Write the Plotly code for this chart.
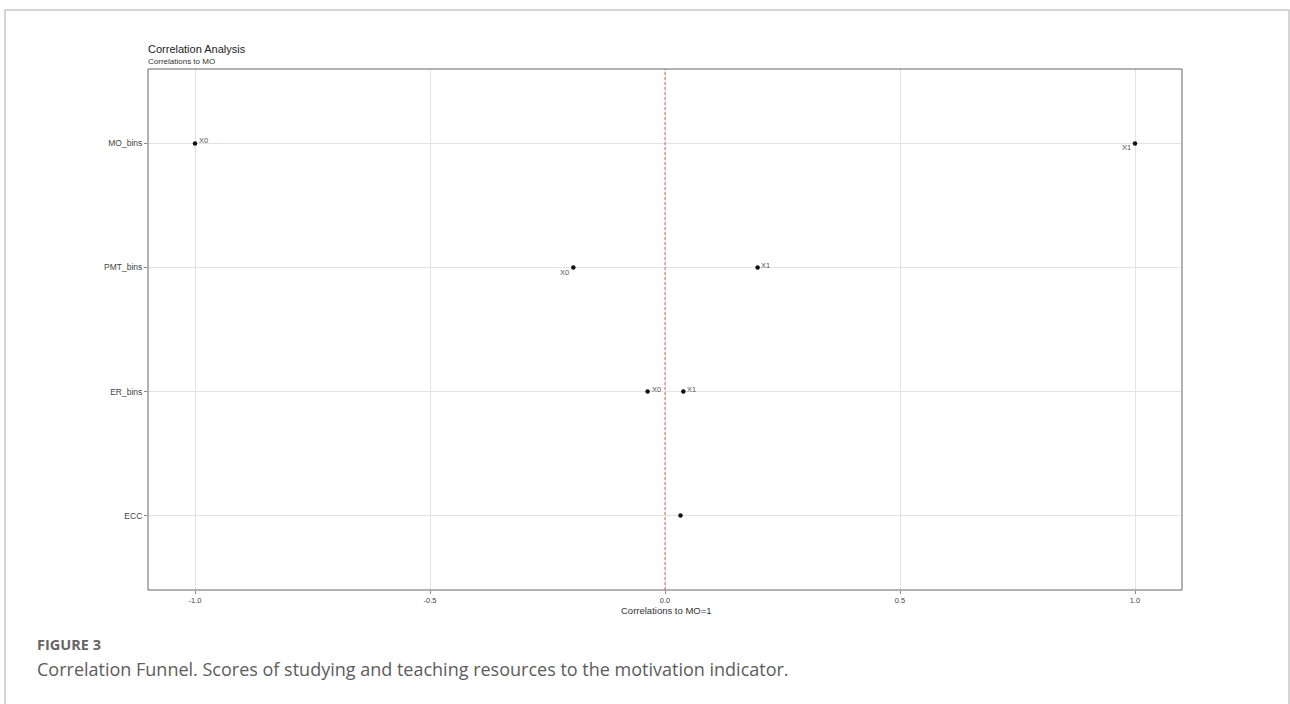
import plotly.graph_objects as go

# Correlation funnel: correlation of each feature level with MO=1
features = ["MO_bins", "MO_bins", "PMT_bins", "PMT_bins", "ER_bins", "ER_bins", "ECC"]
levels = ["X0", "X1", "X0", "X1", "X0", "X1", ""]
correlations = [-1.0, 1.0, -0.195, 0.197, -0.037, 0.039, 0.033]

category_order = ["ECC", "ER_bins", "PMT_bins", "MO_bins"]
x_ticks = [-1.0, -0.5, 0.0, 0.5, 1.0]
x_tick_labels = ["-1.0", "-0.5", "0.0", "0.5", "1.0"]

# Label placement (repel-style nudges, in pixels): anchor side, dx, dy
label_nudges = [("left", 3, 3), ("right", -3, -4), ("right", -3, -5), ("left", 2, 2),
                ("left", 3, 2), ("left", 3, 2), ("left", 3, 2)]

W, H = 1290, 704
L, R, T, B = 148, 1182, 69, 590  # plot area in pixels
PLOT_FONT = "Liberation Sans, Arial, sans-serif"
CAPTION_FONT = "Open Sans, sans-serif"


def px(x):
    return (x - L) / (R - L)


def py(y):
    return (B - y) / (B - T)


fig = go.Figure()

fig.add_trace(go.Scatter(
    x=correlations,
    y=features,
    mode="markers",
    text=levels,
    marker=dict(color="#111111", size=4.5),
    showlegend=False,
    hoverinfo="x+y+text",
))

# Reference line at zero correlation
fig.add_shape(type="line", x0=0, x1=0, y0=0, y1=1, xref="x", yref="paper",
              line=dict(color="#f0645a", width=1, dash="3px,2px"), layer="above")

# Panel frame
fig.add_shape(type="rect", x0=0, x1=1, y0=0, y1=1, xref="paper", yref="paper",
              line=dict(color="#666666", width=1), layer="above")

# Outer page border
fig.add_shape(type="rect", x0=px(5), x1=px(1289), y0=py(710), y1=py(10),
              xref="paper", yref="paper",
              line=dict(color="#c8c8c8", width=1.5), layer="below")

annotations = []
for xv, yv, lab, (side, dx, dy) in zip(correlations, features, levels, label_nudges):
    if not lab:
        continue
    annotations.append(dict(
        text=lab, x=xv, y=yv, xref="x", yref="y", showarrow=False,
        xanchor=side, yanchor="middle", xshift=dx, yshift=dy, borderpad=0,
        font=dict(family=PLOT_FONT, size=7.5, color="#555555"),
    ))

page_text = [
    dict(text="Correlation Analysis", x=px(146), y=py(57), xanchor="left", yanchor="bottom",
         font=dict(family=PLOT_FONT, size=11, color="#222222")),
    dict(text="Correlations to MO", x=px(146), y=py(68), xanchor="left", yanchor="bottom",
         font=dict(family=PLOT_FONT, size=8, color="#333333")),
    dict(text="Correlations to MO=1", x=px(666), y=py(603), xanchor="center", yanchor="top",
         font=dict(family=PLOT_FONT, size=9.5, color="#333333")),
    dict(text="<b>FIGURE 3</b>", x=px(35), y=py(644), xanchor="left", yanchor="middle",
         font=dict(family=CAPTION_FONT, size=14.5, color="#666666")),
    dict(text="Correlation Funnel. Scores of studying and teaching resources to the motivation indicator.",
         x=px(35), y=py(669), xanchor="left", yanchor="middle",
         font=dict(family=CAPTION_FONT, size=18, color="#5c5c5c")),
]
for a in page_text:
    a.update(xref="paper", yref="paper", showarrow=False)
annotations.extend(page_text)

fig.update_layout(
    width=W, height=H,
    margin=dict(l=L, r=W - R, t=T, b=H - B),
    paper_bgcolor="white",
    plot_bgcolor="white",
    annotations=annotations,
    xaxis=dict(
        range=[-1.1, 1.1],
        tickvals=x_ticks, ticktext=x_tick_labels,
        showgrid=True, gridcolor="#e3e3e3", gridwidth=1,
        zeroline=False, showline=False,
        ticks="outside", ticklen=3, tickcolor="#888888",
        ticklabelstandoff=0,
        tickfont=dict(family=PLOT_FONT, size=7.5, color="#444444"),
    ),
    yaxis=dict(
        categoryorder="array", categoryarray=category_order,
        range=[-0.6, 3.6],
        showgrid=True, gridcolor="#e3e3e3", gridwidth=1,
        zeroline=False, showline=False,
        ticks="outside", ticklen=3, tickcolor="#888888",
        tickfont=dict(family=PLOT_FONT, size=8.5, color="#444444"),
    ),
)

fig.write_html("out.html")
